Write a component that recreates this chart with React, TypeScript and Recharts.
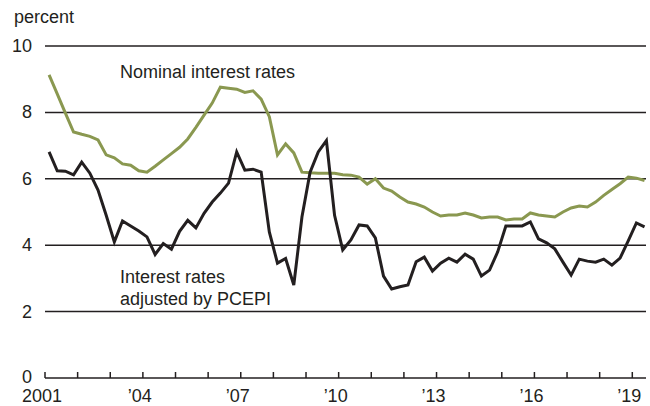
import { CartesianGrid, Line, LineChart, XAxis, YAxis } from 'recharts'

document.body.style.margin = '0'

const FONT = '"Liberation Sans", Arial, Helvetica, sans-serif'
const INK = '#231f20'
const OLIVE = '#8a9850'

// quarterly, 2001Q1 .. 2019Q2
const quarters: string[] = []
for (let y = 2001; y <= 2019; y++) {
  for (let q = 1; q <= 4; q++) {
    if (y === 2019 && q > 2) break
    quarters.push(`${y}Q${q}`)
  }
}

const nominal = [
  9.13, 8.56, 7.98, 7.41, 7.34, 7.28, 7.17, 6.72, 6.63, 6.45,
  6.41, 6.24, 6.2, 6.38, 6.57, 6.76, 6.95, 7.2, 7.55, 7.92,
  8.28, 8.76, 8.73, 8.7, 8.6, 8.65, 8.4, 7.87, 6.72, 7.05,
  6.78, 6.2, 6.18, 6.17, 6.17, 6.17, 6.12, 6.11, 6.05, 5.84,
  6.0, 5.72, 5.63, 5.45, 5.3, 5.24, 5.15, 5.0, 4.88, 4.91,
  4.91, 4.97, 4.91, 4.82, 4.85, 4.85, 4.76, 4.79, 4.79, 4.97,
  4.91, 4.88, 4.85, 5.0, 5.12, 5.18, 5.15, 5.3, 5.5, 5.68,
  5.85, 6.05, 6.02, 5.95,
]

const adjusted = [
  6.81, 6.24, 6.23, 6.12, 6.5, 6.17, 5.66, 4.9, 4.1, 4.73,
  4.58, 4.43, 4.25, 3.72, 4.05, 3.88, 4.42, 4.75, 4.52, 4.96,
  5.3, 5.57, 5.87, 6.81, 6.26, 6.29, 6.2, 4.4, 3.46, 3.6,
  2.8, 4.85, 6.2, 6.81, 7.15, 4.9, 3.86, 4.16, 4.61, 4.58,
  4.22, 3.07, 2.68, 2.75, 2.8, 3.5, 3.64, 3.22, 3.46, 3.61,
  3.49, 3.73, 3.58, 3.07, 3.25, 3.8, 4.58, 4.58, 4.58, 4.7,
  4.19, 4.07, 3.89, 3.49, 3.1, 3.58, 3.52, 3.49, 3.58, 3.4,
  3.61, 4.13, 4.67, 4.55,
]

const yearTicks = [
  2001, 2002, 2003, 2004, 2005, 2006, 2007, 2008, 2009, 2010,
  2011, 2012, 2013, 2014, 2015, 2016, 2017, 2018, 2019,
]
const yearLabels: Record<number, string> = {
  2001: '2001',
  2004: '\u201904',
  2007: '\u201907',
  2010: '\u201910',
  2013: '\u201913',
  2016: '\u201916',
  2019: '\u201919',
}
const yTicks = [0, 2, 4, 6, 8, 10]

// mid-quarter positions on a fractional-year axis
const data = quarters.map((q, i) => {
  const [y, n] = q.split('Q').map(Number)
  return { t: y + (n - 1) * 0.25 + 0.125, nominal: nominal[i], adjusted: adjusted[i] }
})

function XTick(props: any) {
  const { x, y, payload } = props
  const label = yearLabels[payload.value]
  return (
    <g>
      <line x1={x} x2={x} y1={y} y2={y - 6} stroke={INK} strokeWidth={1.5} />
      {label ? (
        <text x={x - 3} y={y + 24} textAnchor="middle" fontSize={18} fontFamily={FONT} fill={INK}>
          {label}
        </text>
      ) : null}
    </g>
  )
}

function YTick(props: any) {
  const { y, payload } = props
  // the 0 sits a touch higher so it clears the year labels below
  const dy = payload.value === 0 ? 4.5 : 6
  return (
    <text x={32} y={y + dy} textAnchor="end" fontSize={18} fontFamily={FONT} fill={INK}>
      {payload.value}
    </text>
  )
}

const labelStyle = {
  position: 'absolute' as const,
  fontFamily: FONT,
  fontSize: 18,
  lineHeight: '22px',
  color: INK,
  whiteSpace: 'nowrap' as const,
}

export default function App() {
  return (
    <div style={{ position: 'relative', width: 650, height: 406, background: '#fff' }}>
      <LineChart width={650} height={406} data={data} margin={{ top: 46, right: 4, bottom: 0, left: 0 }}>
        <CartesianGrid vertical={false} horizontalValues={[2, 4, 6, 8, 10]} stroke={INK} strokeWidth={1.5} />
        <XAxis
          dataKey="t"
          type="number"
          domain={[2001, 2019.42]}
          ticks={yearTicks}
          interval={0}
          allowDataOverflow
          height={28}
          tickSize={0}
          tickMargin={0}
          tickLine={false}
          axisLine={{ stroke: INK, strokeWidth: 1.5 }}
          tick={<XTick />}
        />
        <YAxis
          domain={[0, 10]}
          ticks={yTicks}
          width={45}
          axisLine={false}
          tickLine={false}
          tick={<YTick />}
        />
        <Line
          type="linear"
          dataKey="nominal"
          stroke={OLIVE}
          strokeWidth={3}
          dot={false}
          isAnimationActive={false}
          strokeLinejoin="miter"
        />
        <Line
          type="linear"
          dataKey="adjusted"
          stroke={INK}
          strokeWidth={3}
          dot={false}
          isAnimationActive={false}
          strokeLinejoin="miter"
        />
      </LineChart>
      <div style={{ ...labelStyle, left: 14, top: 6 }}>percent</div>
      <div style={{ ...labelStyle, left: 120, top: 61 }}>Nominal interest rates</div>
      <div style={{ ...labelStyle, left: 120, top: 266 }}>
        Interest rates
        <br />
        adjusted by PCEPI
      </div>
    </div>
  )
}
